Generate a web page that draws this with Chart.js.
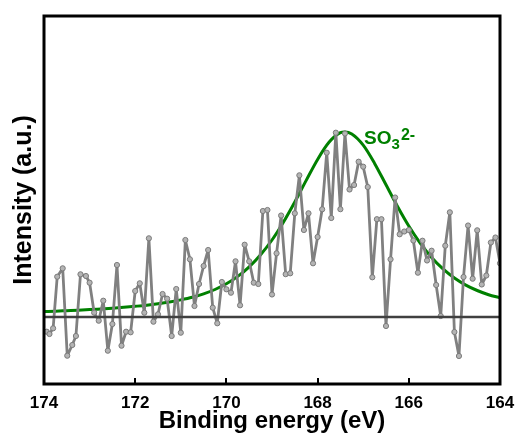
<!DOCTYPE html>
<html>
<head>
<meta charset="utf-8">
<script src="https://cdn.jsdelivr.net/npm/chart.js@4.4.1/dist/chart.umd.min.js"></script>
<style>
  html, body { margin: 0; padding: 0; background: #fff; }
  #chart { display: block; }
</style>
</head>
<body>
<canvas id="chart" width="516" height="433"></canvas>
<script>
// measured spectrum (binding energy in eV, intensity in a.u. above background)
const energy = [
  173.94, 173.88, 173.80, 173.71, 173.59, 173.49, 173.38, 173.30, 173.20, 173.08,
  173.0, 172.9, 172.8, 172.7, 172.6, 172.5, 172.4, 172.3, 172.2, 172.1,
  172.0, 171.9, 171.8, 171.7, 171.6, 171.5, 171.4, 171.3, 171.2, 171.1,
  171.0, 170.9, 170.8, 170.7, 170.6, 170.5, 170.4, 170.3, 170.2, 170.1,
  170.0, 169.9, 169.8, 169.7, 169.6, 169.5, 169.4, 169.3, 169.2, 169.1,
  169.0, 168.9, 168.8, 168.7, 168.6, 168.5, 168.4, 168.3, 168.2, 168.1,
  168.0, 167.9, 167.8, 167.7, 167.6, 167.5, 167.4, 167.3, 167.2, 167.1,
  167.0, 166.9, 166.8, 166.7, 166.6, 166.5, 166.4, 166.3, 166.2, 166.1,
  166.0, 165.9, 165.8, 165.7, 165.6, 165.5, 165.4, 165.3, 165.2, 165.1,
  165.0, 164.9, 164.8, 164.7, 164.6, 164.5, 164.4, 164.3, 164.2, 164.1,
  164.0
];
const counts = [
  -14.7, -17, -11.3, 40.3, 48.7, -38.7, -28, -19, 42.7, 41,
  34.3, 4.3, -3.7, 16.3, -33.7, -7, 52, -28.7, -14.7, -15.3,
  26, 33.7, 4.3, 78.7, -4.7, 2.7, 23, 18.3, -19, 28,
  -15.7, 77, 57.7, 11, 33, 51, 67, 9.3, -6.3, 35,
  27.7, 24.3, 55.7, 11.7, 72.3, 55.7, 34.3, 33, 106, 107,
  22.5, 63.7, 101.5, 42.8, 43.7, 103.7, 141.7, 87, 103.7, 53.7,
  80, 107.7, 164.3, 99, 184.3, 107.8, 183.5, 127.5, 132, 155.3,
  150.3, 130, 39.7, 97.8, 97.8, -9, 57.7, 119.5, 82.7, 85.5,
  87, 76.5, 44.3, 76.3, 56.5, 66.3, 32, 1, 71.3, 104.7,
  -15, -39, 40, 91.5, 38.3, 86.7, 32.5, 41.5, 74.5, 79.5,
  53.7
];

// fitted SO3 2- component
const fitEnergy = [
  174.0, 173.75, 173.5, 173.25, 173.0, 172.75, 172.5, 172.25, 172.0, 171.75,
  171.5, 171.25, 171.0, 170.75, 170.5, 170.25, 170.0, 169.75, 169.5, 169.25,
  169.0, 168.75, 168.5, 168.25, 168.0, 167.75, 167.5, 167.4, 167.25, 167.0,
  166.75, 166.5, 166.25, 166.0, 165.75, 165.5, 165.25, 165.0, 164.75, 164.5,
  164.25, 164.0
];
const fitCounts = [
  5.4, 5.8, 6.3, 6.8, 7.4, 8.1, 8.8, 9.7, 10.7, 11.8,
  13.2, 14.9, 17.1, 19.7, 23.1, 27.5, 33.2, 40.6, 50.2, 62.3,
  77, 94.8, 115, 136.6, 157.6, 174.7, 184.3, 185, 183, 171.8,
  153.6, 132.2, 110.8, 91, 73.9, 59.6, 48.1, 39, 31.9, 26.5,
  22.3, 19.2
];

// background line
const baseEnergy = [174, 164];
const baseCounts = [0, 0];

const xTicks = [174, 172, 170, 168, 166, 164];
const xRange = [164, 174];
const yRange = [-67, 301];

function toPoints(xs, ys) {
  return xs.map((x, i) => ({ x: x, y: ys[i] }));
}

// frame, inward ticks and the peak label
const framePlugin = {
  id: 'frame',
  afterDatasetsDraw(chart) {
    const ctx = chart.ctx;
    const a = chart.chartArea;
    const xs = chart.scales.x;
    const ys = chart.scales.y;
    ctx.save();
    ctx.strokeStyle = '#000';
    ctx.lineWidth = 2;
    xTicks.forEach(v => {
      const px = Math.round(xs.getPixelForValue(v));
      ctx.beginPath();
      ctx.moveTo(px, a.bottom);
      ctx.lineTo(px, a.bottom - 6);
      ctx.stroke();
    });
    ctx.lineWidth = 3;
    ctx.strokeRect(a.left, a.top, a.right - a.left, a.bottom - a.top);

    // SO3 2- label
    let x = xs.getPixelForValue(166.98);
    const y = ys.getPixelForValue(173);
    ctx.fillStyle = '#008000';
    ctx.textAlign = 'left';
    ctx.textBaseline = 'alphabetic';
    ctx.font = 'bold 19px "Liberation Sans", Arial, sans-serif';
    ctx.fillText('SO', x, y);
    x += ctx.measureText('SO').width;
    ctx.font = 'bold 15px "Liberation Sans", Arial, sans-serif';
    ctx.fillText('3', x, y + 5);
    x += ctx.measureText('3').width + 1;
    ctx.font = 'bold 16px "Liberation Sans", Arial, sans-serif';
    ctx.fillText('2-', x, y - 4);
    ctx.restore();
  }
};

new Chart(document.getElementById('chart'), {
  type: 'scatter',
  data: {
    datasets: [
      {
        label: 'background',
        data: toPoints(baseEnergy, baseCounts),
        showLine: true,
        borderColor: '#404040',
        borderWidth: 2.5,
        pointRadius: 0
      },
      {
        label: 'raw',
        data: toPoints(energy, counts),
        showLine: true,
        borderColor: '#808080',
        borderWidth: 2.8,
        borderJoinStyle: 'round',
        borderCapStyle: 'round',
        pointRadius: 2.6,
        pointBackgroundColor: '#b4b4b4',
        pointBorderColor: '#7a7a7a',
        pointBorderWidth: 1
      },
      {
        label: 'fit',
        data: toPoints(fitEnergy, fitCounts),
        showLine: true,
        borderColor: '#008000',
        borderWidth: 3,
        pointRadius: 0,
        tension: 0.4,
        cubicInterpolationMode: 'monotone'
      }
    ]
  },
  options: {
    responsive: false,
    animation: false,
    devicePixelRatio: 1,
    layout: { padding: { top: 16, right: 16, left: 0, bottom: 0 } },
    plugins: {
      legend: { display: false },
      tooltip: { enabled: false }
    },
    scales: {
      x: {
        type: 'linear',
        reverse: true,
        min: xRange[0],
        max: xRange[1],
        afterBuildTicks: s => { s.ticks = xTicks.map(v => ({ value: v })); },
        afterFit: s => { s.height = 49; s.paddingLeft = 0; s.paddingRight = 0; },
        grid: { display: false, drawTicks: false },
        border: { display: false },
        ticks: {
          color: '#000',
          padding: 9,
          maxRotation: 0,
          font: { family: '"Liberation Sans", Arial, sans-serif', size: 17, weight: 'bold' }
        },
        title: {
          display: true,
          text: 'Binding energy (eV)',
          color: '#000',
          padding: { top: 0, bottom: -3 },
          font: { family: '"Liberation Sans", Arial, sans-serif', size: 24, weight: 'bold' }
        }
      },
      y: {
        type: 'linear',
        min: yRange[0],
        max: yRange[1],
        afterFit: s => { s.width = 44; s.paddingTop = 0; s.paddingBottom = 0; },
        grid: { display: false, drawTicks: false },
        border: { display: false },
        ticks: { display: false },
        title: {
          display: true,
          text: 'Intensity (a.u.)',
          color: '#000',
          padding: { top: 9, bottom: 0 },
          font: { family: '"Liberation Sans", Arial, sans-serif', size: 25, weight: 'bold' }
        }
      }
    }
  },
  plugins: [framePlugin]
});
</script>
</body>
</html>
